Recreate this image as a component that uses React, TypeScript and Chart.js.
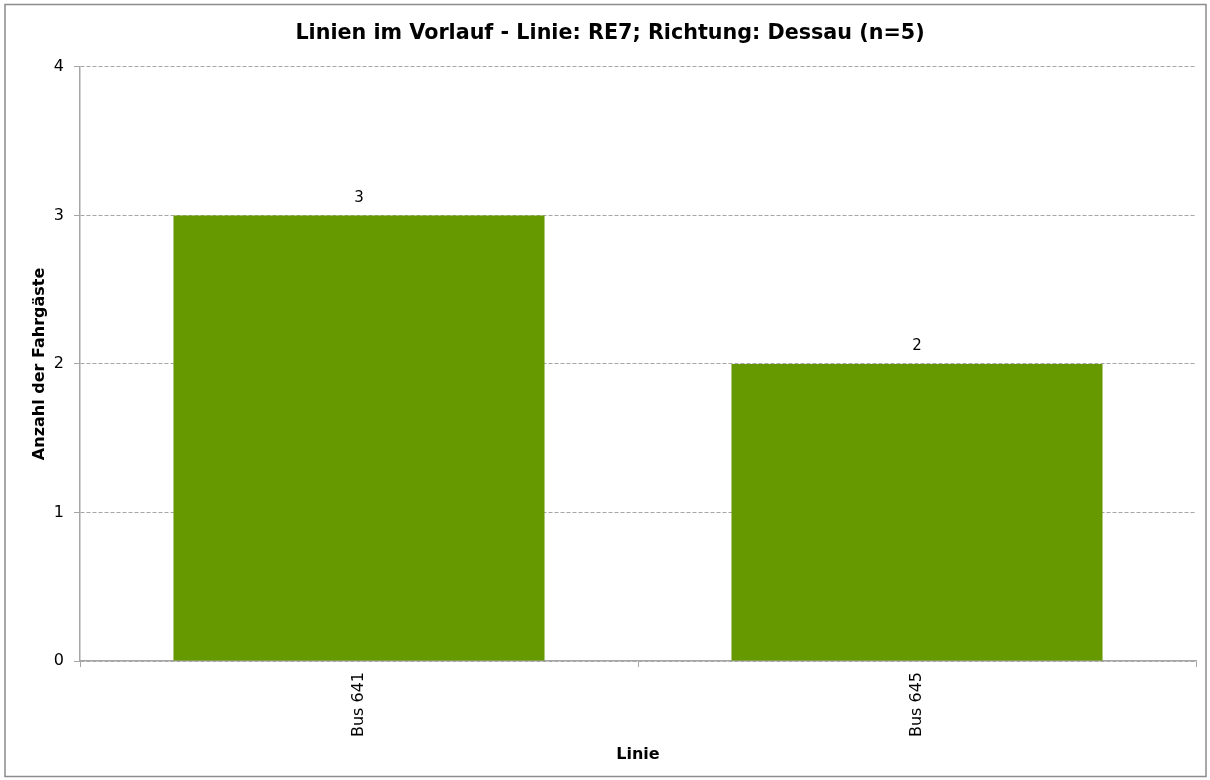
import React, { useEffect, useRef } from "react";
import { Chart, registerables } from "chart.js";

Chart.register(...registerables);

const chartTitle = "Linien im Vorlauf - Linie: RE7; Richtung: Dessau (n=5)";
const categories = ["Bus 641", "Bus 645"];
const passengerCounts = [3, 2];
const xAxisTitle = "Linie";
const yAxisTitle = "Anzahl der Fahrgäste";
const yMin = 0;
const yMax = 4;
const yStep = 1;

const FONT = "'DejaVu Sans', Verdana, sans-serif";

const framePlugin = {
  id: "frame",
  beforeDraw(chart: any) {
    const { ctx, width, height } = chart;
    ctx.save();
    ctx.fillStyle = "#ffffff";
    ctx.fillRect(0, 0, width, height);
    ctx.strokeStyle = "#8c8c8c";
    ctx.lineWidth = 1.5;
    ctx.strokeRect(5, 4.5, width - 9, height - 8);
    ctx.restore();
  },
};

const valueLabelPlugin = {
  id: "valueLabels",
  afterDatasetsDraw(chart: any) {
    const { ctx } = chart;
    ctx.save();
    ctx.font = `15px ${FONT}`;
    ctx.fillStyle = "#000000";
    ctx.textAlign = "center";
    ctx.textBaseline = "bottom";
    chart.data.datasets.forEach((ds: any, di: number) => {
      const meta = chart.getDatasetMeta(di);
      meta.data.forEach((bar: any, i: number) => {
        ctx.fillText(String(ds.data[i]), bar.x, bar.y - 10);
      });
    });
    ctx.restore();
  },
};

export default function App() {
  const canvasRef = useRef<HTMLCanvasElement | null>(null);

  useEffect(() => {
    if (!canvasRef.current) return;
    const chart = new Chart(canvasRef.current, {
      type: "bar",
      data: {
        labels: categories,
        datasets: [
          {
            label: yAxisTitle,
            data: passengerCounts,
            backgroundColor: "#669900",
            borderWidth: 0,
            categoryPercentage: 1,
            barPercentage: 0.665,
          },
        ],
      },
      options: {
        animation: false,
        responsive: false,
        devicePixelRatio: 1,
        layout: { padding: { top: 0, right: 14, bottom: 0, left: 24 } },
        plugins: {
          legend: { display: false },
          tooltip: { enabled: false },
          title: {
            display: true,
            text: chartTitle,
            color: "#000000",
            font: { family: FONT, size: 20.7, weight: "bold" },
            padding: { top: 21, bottom: 21 },
          },
        },
        scales: {
          x: {
            afterFit(scale: any) {
              scale.height = 119;
            },
            grid: {
              display: true,
              drawOnChartArea: false,
              drawTicks: true,
              tickLength: 6,
              tickColor: "#a6a6a6",
              tickWidth: 1,
            },
            border: { display: true, color: "#a6a6a6", width: 1.5 },
            ticks: {
              color: "#000000",
              font: { family: FONT, size: 16 },
              minRotation: 90,
              maxRotation: 90,
              autoSkip: false,
              padding: 5,
            },
            title: {
              display: true,
              text: xAxisTitle,
              color: "#000000",
              font: { family: FONT, size: 16, weight: "bold" },
              padding: { top: 0, bottom: 16 },
            },
          },
          y: {
            min: yMin,
            max: yMax,
            afterFit(scale: any) {
              scale.width = 56;
            },
            grid: {
              color: "#a6a6a6",
              lineWidth: 1,
              drawTicks: true,
              tickLength: 6,
              tickColor: "#a6a6a6",
            },
            border: { display: true, color: "#a6a6a6", width: 1.5, dash: [4, 2] },
            ticks: {
              stepSize: yStep,
              color: "#000000",
              font: { family: FONT, size: 16 },
              padding: 10,
            },
            title: {
              display: true,
              text: yAxisTitle,
              color: "#000000",
              font: { family: FONT, size: 16, weight: "bold" },
              padding: { top: 6, bottom: 0 },
            },
          },
        },
      },
      plugins: [framePlugin, valueLabelPlugin],
    });
    return () => chart.destroy();
  }, []);

  return (
    <div style={{ position: "absolute", left: 0, top: 0, width: 1210, height: 780 }}>
      <canvas ref={canvasRef} width={1210} height={780} />
    </div>
  );
}
